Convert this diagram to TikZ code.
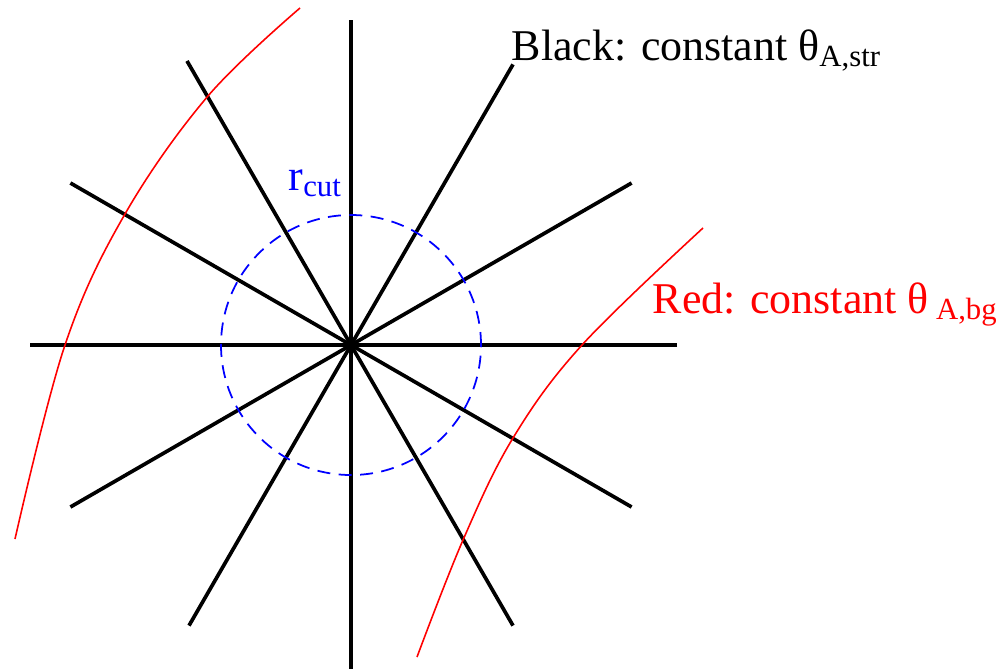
\documentclass[tikz,border=0pt]{standalone}
\usepackage{fontspec}
\setmainfont{LiberationSerif}[Extension=.ttf, UprightFont=*-Regular]
\usepackage{tikz}
\usepackage{xcolor}
\definecolor{curvered}{RGB}{255,0,0}
\definecolor{cutblue}{RGB}{0,0,255}

\begin{document}
\begin{tikzpicture}[ray/.style={line width=1.05pt}, bgcurve/.style={curvered, line width=0.45pt}, lbl/.style={anchor=base west, inner sep=0pt, font=\fontsize{12.5}{14}\selectfont}]
    \useasboundingbox (-3.51,-3.24) rectangle (6.49,3.45);
    % Straight lines: constant theta_A,str
    \draw[ray] (90:3.25) -- (270:3.24);
    \draw[ray] (0:3.26) -- (180:3.21);
    \draw[ray] (30:3.24) -- (210:3.24);
    \draw[ray] (60:3.24) -- (240:3.24);
    \draw[ray] (120:3.28) -- (300:3.24);
    \draw[ray] (150:3.24) -- (330:3.24);
    % Cut radius
    \draw[cutblue, line width=0.5pt, dash pattern=on 3.7pt off 2.4pt] (0,0) circle (1.3);
    \node[lbl, text=cutblue] (rcut) at (-0.63,1.55) {r\textsubscript{cut}};
    % Red curves: constant theta_A,bg
    \draw[bgcurve] plot[smooth, tension=0.6] coordinates {(-0.51,3.37) (-1.43,2.49) (-2.26,1.31) (-2.86,0) (-3.36,-1.94)};
    \draw[bgcurve] plot[smooth, tension=0.6] coordinates {(3.52,1.17) (2.31,0) (1.62,-0.93) (1.12,-1.95) (0.66,-3.12)};
    % Legend
    \node[lbl] (blacklbl) at (1.60,2.85) {Black: constant θ\textsubscript{A,str}};
    \node[lbl, text=curvered] (redlbl) at (3.01,0.32) {Red: constant θ\,\textsubscript{A,bg}};
\end{tikzpicture}
\end{document}
